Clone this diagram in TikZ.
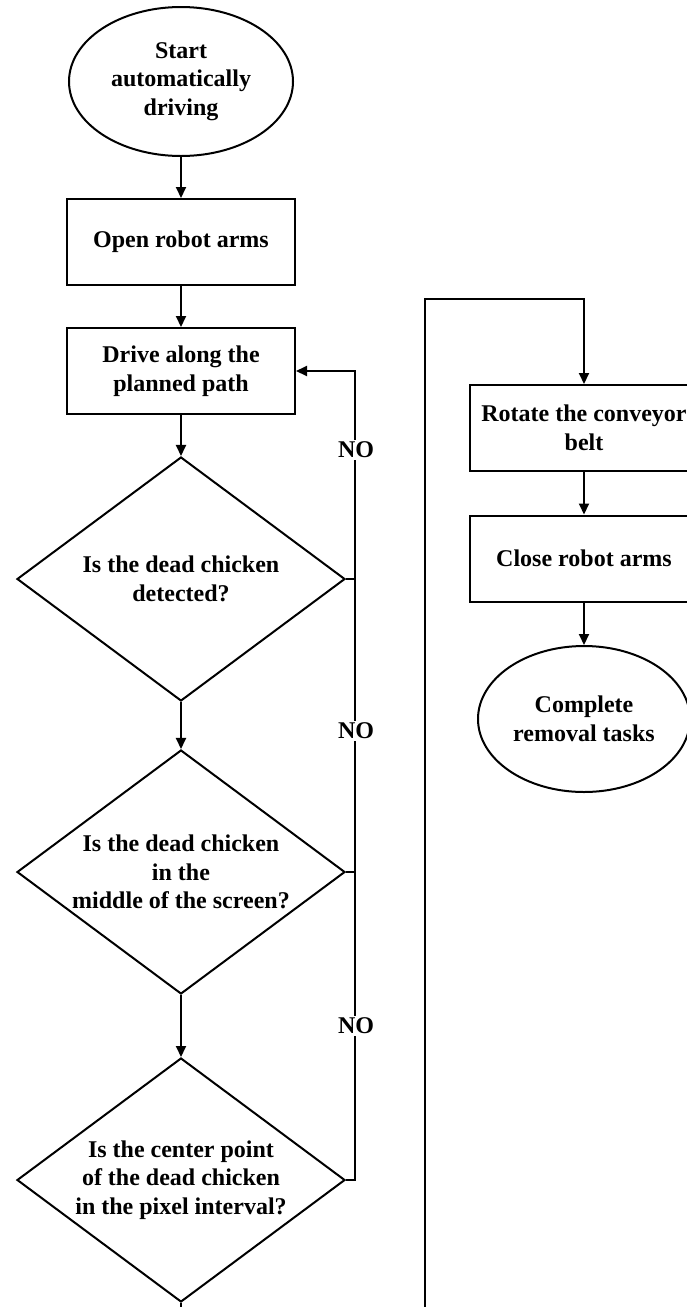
\documentclass[tikz,border=0pt]{standalone}
\usepackage{fontspec}
\setmainfont{Liberation Serif}
\usetikzlibrary{shapes.geometric,arrows.meta}

\tikzset{
  base/.style={draw, line width=2pt, inner sep=0pt, align=center,
    font=\bfseries\fontsize{24}{28.5}\selectfont},
  terminal/.style={base, ellipse},
  stepbox/.style={base, rectangle, minimum width=228pt, minimum height=86pt},
  decision/.style={base, diamond, minimum width=328pt, minimum height=244pt},
  qtext/.style={align=center, inner sep=0pt, font=\bfseries\fontsize{24}{28.5}\selectfont},
  flow/.style={line width=2pt, -{Triangle[length=11pt,width=10pt]}},
  wire/.style={line width=2pt},
  nolabel/.style={fill=white, inner sep=2pt, font=\bfseries\fontsize{24}{28.5}\selectfont}
}

\begin{document}
\begin{tikzpicture}[x=1pt,y=-1pt]
\useasboundingbox (0,0) rectangle (687,1307);
\clip (0,0) rectangle (687,1307);
\fill[white] (0,0) rectangle (687,1307);

% left column
\node[terminal, minimum width=224pt, minimum height=149pt] (start) at (181,81.5)
  {Start\\automatically\\driving};
\node[stepbox] (open) at (181,242) {Open robot arms};
\node[stepbox] (drive) at (181,371) {Drive along the\\planned path};

\node[decision] (d1) at (181,579) {};
\node[qtext] at (d1.center) {Is the dead chicken\\detected?};
\node[decision] (d2) at (181,872) {};
\node[qtext] at (d2.center) {Is the dead chicken\\in the\\middle of the screen?};
\node[decision] (d3) at (181,1180) {};
\node[qtext] at (d3.center) {Is the center point\\of the dead chicken\\in the pixel interval?};

% right column
\node[stepbox] (rotate) at (584,428) {Rotate the conveyor\\belt};
\node[stepbox] (close) at (584,558.5) {Close robot arms};
\node[terminal, minimum width=212pt, minimum height=146pt] (done) at (584,719)
  {Complete\\removal tasks};

% main sequence
\draw[flow] (start) -- (open);
\draw[flow] (open) -- (drive);
\draw[flow] (drive) -- (d1);
\draw[flow] (d1) -- (d2);
\draw[flow] (d2) -- (d3);
\draw[flow] (rotate) -- (close);
\draw[flow] (close) -- (done);

% NO branches back to driving
\coordinate (loopx) at (355,0);
\draw[flow] (d3.east) -- (d3.east -| loopx) -- (drive.east -| loopx) -- (drive.east);
\draw[wire] (d1.east) -- (d1.east -| loopx);
\draw[wire] (d2.east) -- (d2.east -| loopx);
\node[nolabel] (no1) at (356,450) {NO};
\node[nolabel] (no2) at (356,731) {NO};
\node[nolabel] (no3) at (356,1026) {NO};

% YES branch of the last decision to the removal steps
\coordinate (low) at (181,1340);
\coordinate (turn) at (425,299);
\draw[flow] (d3.south) -- (low) -| (turn) -| (rotate.north);
\end{tikzpicture}
\end{document}
